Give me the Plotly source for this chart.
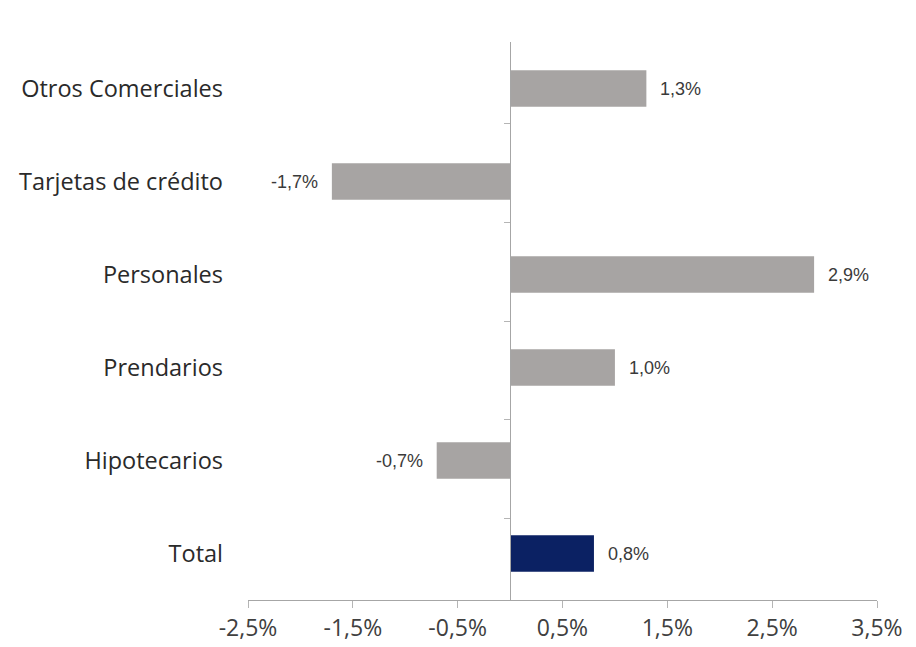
import plotly.graph_objects as go

# Variation by loan type (%)
categories = ["Otros Comerciales", "Tarjetas de crédito", "Personales",
              "Prendarios", "Hipotecarios", "Total"]
values = [1.3, -1.7, 2.9, 1.0, -0.7, 0.8]
tick_values = [-2.5, -1.5, -0.5, 0.5, 1.5, 2.5, 3.5]
tick_labels = ["-2,5%", "-1,5%", "-0,5%", "0,5%", "1,5%", "2,5%", "3,5%"]

GRAY = "#A7A4A3"
NAVY = "#0B2163"
colors = [NAVY if c == "Total" else GRAY for c in categories]

x_min, x_max = -2.5, 3.5
zero_pos = (0 - x_min) / (x_max - x_min)

fig = go.Figure()
fig.add_trace(go.Bar(
    y=categories, x=values, orientation="h",
    marker=dict(color=colors, line=dict(width=0)),
    width=0.39, hoverinfo="skip",
))
# invisible trace that carries the category axis drawn at zero
fig.add_trace(go.Scatter(
    y=categories, x=[0] * len(categories), yaxis="y2",
    mode="markers", marker=dict(opacity=0), hoverinfo="skip", showlegend=False,
))

# value labels next to each bar end
for cat, val in zip(categories, values):
    fig.add_annotation(
        x=val, y=cat, xref="x", yref="y",
        text=f"{val:.1f}%".replace(".", ","),
        showarrow=False,
        xanchor="left" if val >= 0 else "right",
        xshift=12 if val >= 0 else -12,
        font=dict(family="Liberation Sans, Arial, sans-serif", size=18, color="#3A3A3A"),
    )

cat_axis = dict(
    type="category", categoryorder="array", categoryarray=categories,
    autorange="reversed",
)

fig.update_layout(
    width=916, height=647,
    margin=dict(l=248, r=39, t=42, b=47),
    paper_bgcolor="white", plot_bgcolor="white",
    separators=",.",
    showlegend=False,
    font=dict(family="Open Sans, sans-serif", color="#333333"),
    xaxis=dict(
        range=[x_min, x_max], tickvals=tick_values, ticktext=tick_labels,
        automargin=False,
        showgrid=False, zeroline=False,
        showline=True, linecolor="#A6A6A6", linewidth=1,
        ticks="outside", ticklen=7, tickcolor="#B5B5B5",
        tickfont=dict(size=23, color="#404040"),
    ),
    yaxis=dict(
        **cat_axis,
        automargin=False,
        showgrid=False, zeroline=False, showline=False, ticks="",
        ticklabelstandoff=24,
        tickfont=dict(size=23.5, color="#2A2A2A"),
    ),
    yaxis2=dict(
        **cat_axis,
        overlaying="y", anchor="free", position=zero_pos, side="left",
        automargin=False,
        showgrid=False, zeroline=False,
        showline=True, linecolor="#A6A6A6", linewidth=1,
        ticks="outside", ticklen=6, tickcolor="#B5B5B5", tickson="boundaries",
        showticklabels=False,
    ),
)

fig.write_html("out.html")
